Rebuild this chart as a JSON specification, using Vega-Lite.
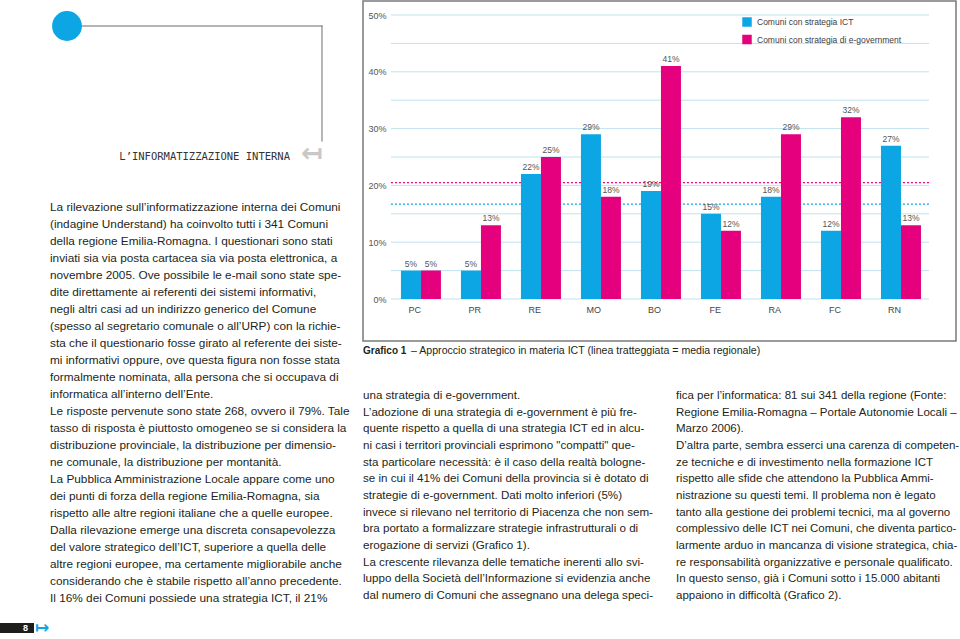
{
  "$schema": "https://vega.github.io/schema/vega-lite/v6.json",
  "padding": 0,
  "background": "white",
  "bounds": "full",
  "spacing": 4,
  "config": {"view": {"stroke": null}, "font": "Liberation Sans"},
  "datasets": {
    "bars": [
      {"prov": "PC", "serie": "Comuni con strategia ICT", "val": 0.05},
      {"prov": "PC", "serie": "Comuni con strategia di e-government", "val": 0.05},
      {"prov": "PR", "serie": "Comuni con strategia ICT", "val": 0.05},
      {"prov": "PR", "serie": "Comuni con strategia di e-government", "val": 0.13},
      {"prov": "RE", "serie": "Comuni con strategia ICT", "val": 0.22},
      {"prov": "RE", "serie": "Comuni con strategia di e-government", "val": 0.25},
      {"prov": "MO", "serie": "Comuni con strategia ICT", "val": 0.29},
      {"prov": "MO", "serie": "Comuni con strategia di e-government", "val": 0.18},
      {"prov": "BO", "serie": "Comuni con strategia ICT", "val": 0.19},
      {"prov": "BO", "serie": "Comuni con strategia di e-government", "val": 0.41},
      {"prov": "FE", "serie": "Comuni con strategia ICT", "val": 0.15},
      {"prov": "FE", "serie": "Comuni con strategia di e-government", "val": 0.12},
      {"prov": "RA", "serie": "Comuni con strategia ICT", "val": 0.18},
      {"prov": "RA", "serie": "Comuni con strategia di e-government", "val": 0.29},
      {"prov": "FC", "serie": "Comuni con strategia ICT", "val": 0.12},
      {"prov": "FC", "serie": "Comuni con strategia di e-government", "val": 0.32},
      {"prov": "RN", "serie": "Comuni con strategia ICT", "val": 0.27},
      {"prov": "RN", "serie": "Comuni con strategia di e-government", "val": 0.13}
    ],
    "grid": [
      {"g": 0}, {"g": 0.05}, {"g": 0.1}, {"g": 0.15}, {"g": 0.2}, {"g": 0.25},
      {"g": 0.3}, {"g": 0.35}, {"g": 0.4}, {"g": 0.45}, {"g": 0.5}
    ],
    "media": [
      {"serie": "Comuni con strategia ICT", "m": 0.167},
      {"serie": "Comuni con strategia di e-government", "m": 0.205}
    ],
    "header": [{"title": "L’INFORMATIZZAZIONE INTERNA"}],
    "page": [{"page": "8"}],
    "caption1": [{"t": "Grafico 1"}],
    "caption2": [{"t": "– Approccio strategico in materia ICT (linea tratteggiata = media regionale)"}],
    "leftText": [
      {"line": 1, "text": "La rilevazione sull’informatizzazione interna dei Comuni"},
      {"line": 2, "text": "(indagine Understand) ha coinvolto tutti i 341 Comuni"},
      {"line": 3, "text": "della regione Emilia-Romagna. I questionari sono stati"},
      {"line": 4, "text": "inviati sia via posta cartacea sia via posta elettronica, a"},
      {"line": 5, "text": "novembre 2005. Ove possibile le e-mail sono state spe-"},
      {"line": 6, "text": "dite direttamente ai referenti dei sistemi informativi,"},
      {"line": 7, "text": "negli altri casi ad un indirizzo generico del Comune"},
      {"line": 8, "text": "(spesso al segretario comunale o all’URP) con la richie-"},
      {"line": 9, "text": "sta che il questionario fosse girato al referente dei siste-"},
      {"line": 10, "text": "mi informativi oppure, ove questa figura non fosse stata"},
      {"line": 11, "text": "formalmente nominata, alla persona che si occupava di"},
      {"line": 12, "text": "informatica all’interno dell’Ente."},
      {"line": 13, "text": "Le risposte pervenute sono state 268, ovvero il 79%. Tale"},
      {"line": 14, "text": "tasso di risposta è piuttosto omogeneo se si considera la"},
      {"line": 15, "text": "distribuzione provinciale, la distribuzione per dimensio-"},
      {"line": 16, "text": "ne comunale, la distribuzione per montanità."},
      {"line": 17, "text": "La Pubblica Amministrazione Locale appare come uno"},
      {"line": 18, "text": "dei punti di forza della regione Emilia-Romagna, sia"},
      {"line": 19, "text": "rispetto alle altre regioni italiane che a quelle europee."},
      {"line": 20, "text": "Dalla rilevazione emerge una discreta consapevolezza"},
      {"line": 21, "text": "del valore strategico dell’ICT, superiore a quella delle"},
      {"line": 22, "text": "altre regioni europee, ma certamente migliorabile anche"},
      {"line": 23, "text": "considerando che è stabile rispetto all’anno precedente."},
      {"line": 24, "text": "Il 16% dei Comuni possiede una strategia ICT, il 21%"}
    ],
    "midText": [
      {"line": 1, "text": "una strategia di e-government."},
      {"line": 2, "text": "L’adozione di una strategia di e-government è più fre-"},
      {"line": 3, "text": "quente rispetto a quella di una strategia ICT ed in alcu-"},
      {"line": 4, "text": "ni casi i territori provinciali esprimono \"compatti\" que-"},
      {"line": 5, "text": "sta particolare necessità: è il caso della realtà bologne-"},
      {"line": 6, "text": "se in cui il 41% dei Comuni della provincia si è dotato di"},
      {"line": 7, "text": "strategie di e-government. Dati molto inferiori (5%)"},
      {"line": 8, "text": "invece si rilevano nel territorio di Piacenza che non sem-"},
      {"line": 9, "text": "bra portato a formalizzare strategie infrastrutturali o di"},
      {"line": 10, "text": "erogazione di servizi (Grafico 1)."},
      {"line": 11, "text": "La crescente rilevanza delle tematiche inerenti allo svi-"},
      {"line": 12, "text": "luppo della Società dell’Informazione si evidenzia anche"},
      {"line": 13, "text": "dal numero di Comuni che assegnano una delega speci-"}
    ],
    "rightText": [
      {"line": 1, "text": "fica per l’informatica: 81 sui 341 della regione (Fonte:"},
      {"line": 2, "text": "Regione Emilia-Romagna – Portale Autonomie Locali –"},
      {"line": 3, "text": "Marzo 2006)."},
      {"line": 4, "text": "D’altra parte, sembra esserci una carenza di competen-"},
      {"line": 5, "text": "ze tecniche e di investimento nella formazione ICT"},
      {"line": 6, "text": "rispetto alle sfide che attendono la Pubblica Ammi-"},
      {"line": 7, "text": "nistrazione su questi temi. Il problema non è legato"},
      {"line": 8, "text": "tanto alla gestione dei problemi tecnici, ma al governo"},
      {"line": 9, "text": "complessivo delle ICT nei Comuni, che diventa partico-"},
      {"line": 10, "text": "larmente arduo in mancanza di visione strategica, chia-"},
      {"line": 11, "text": "re responsabilità organizzative e personale qualificato."},
      {"line": 12, "text": "In questo senso, già i Comuni sotto i 15.000 abitanti"},
      {"line": 13, "text": "appaiono in difficoltà (Grafico 2)."}
    ]
  },
  "hconcat": [
    {
      "vconcat": [
        {
          "width": 358,
          "height": 181,
          "data": {"name": "header"},
          "layer": [
            {
              "mark": {"type": "rule", "color": "#6d6d6d", "strokeWidth": 1, "strokeCap": "square"},
              "encoding": {
                "x": {"datum": 0, "type": "quantitative", "scale": {"domain": [-0.2627, 1.1412], "nice": false, "zero": false}, "axis": null},
                "x2": {"datum": 1},
                "y": {"datum": 1, "type": "quantitative", "scale": {"domain": [-0.3565, 1.2174], "nice": false, "zero": false}, "axis": null}
              }
            },
            {
              "mark": {"type": "rule", "color": "#6d6d6d", "strokeWidth": 1, "strokeCap": "square"},
              "encoding": {
                "x": {"datum": 1, "type": "quantitative"},
                "y": {"datum": 0, "type": "quantitative"},
                "y2": {"datum": 1}
              }
            },
            {
              "mark": {"type": "circle", "size": 890, "color": "#0BA6E3", "opacity": 1},
              "encoding": {
                "x": {"datum": 0, "type": "quantitative"},
                "y": {"datum": 1, "type": "quantitative"}
              }
            },
            {
              "mark": {"type": "text", "font": "DejaVu Sans Mono", "fontSize": 10.5, "align": "right", "baseline": "middle", "dx": -32, "dy": 15.5, "color": "#333333"},
              "encoding": {
                "x": {"datum": 1, "type": "quantitative"},
                "y": {"datum": 0, "type": "quantitative"},
                "text": {"field": "title"}
              }
            },
            {
              "mark": {"type": "text", "text": "↤", "font": "DejaVu Sans", "fontWeight": "bold", "fontSize": 26, "align": "right", "baseline": "middle", "dx": 1, "dy": 13, "color": "#c8c8c8"},
              "encoding": {
                "x": {"datum": 1, "type": "quantitative"},
                "y": {"datum": 0, "type": "quantitative"}
              }
            }
          ]
        },
        {
          "width": 358,
          "height": 391,
          "data": {"name": "leftText"},
          "mark": {"type": "text", "align": "left", "baseline": "middle", "fontSize": 11.8, "font": "Liberation Sans", "color": "#231f20"},
          "encoding": {
            "x": {"datum": 0, "type": "quantitative", "scale": {"domain": [-0.17361, 1.06944], "nice": false, "zero": false}, "axis": null},
            "y": {"field": "line", "type": "quantitative", "scale": {"domain": [1, 24], "reverse": true, "nice": false, "zero": false}, "axis": null},
            "text": {"field": "text"}
          }
        },
        {
          "width": 34,
          "height": 10,
          "view": {"fill": "#1d1d1b", "stroke": null},
          "data": {"name": "page"},
          "layer": [
            {
              "mark": {"type": "text", "color": "white", "fontSize": 9, "fontWeight": "bold", "align": "right", "baseline": "middle", "dx": -6},
              "encoding": {
                "x": {"datum": 1, "type": "quantitative", "scale": {"domain": [0, 1], "nice": false}, "axis": null},
                "y": {"datum": 0.5, "type": "quantitative", "scale": {"domain": [0, 1], "nice": false}, "axis": null},
                "text": {"field": "page"}
              }
            },
            {
              "mark": {"type": "text", "text": "↦", "color": "#0BA6E3", "font": "DejaVu Sans", "fontWeight": "bold", "fontSize": 17, "align": "left", "baseline": "middle", "dx": 1},
              "encoding": {
                "x": {"datum": 1, "type": "quantitative"},
                "y": {"datum": 0.5, "type": "quantitative"}
              }
            }
          ]
        }
      ],
      "spacing": 25,
      "bounds": "flush"
    },
    {
      "vconcat": [
        {
          "width": 593,
          "height": 340,
          "view": {"stroke": "#7a7a7a", "strokeWidth": 1.5},
          "layer": [
            {
              "data": {"name": "grid"},
              "mark": {"type": "rule", "color": "#BFE3EF", "strokeWidth": 1},
              "encoding": {
                "x": {"datum": "PC", "bandPosition": -0.25},
                "x2": {"datum": "RN", "bandPosition": 1.2},
                "y": {"field": "g", "type": "quantitative", "title": null}
              }
            },
            {
              "data": {"name": "media"},
              "transform": [{"filter": {"field": "serie", "equal": "Comuni con strategia ICT"}}],
              "mark": {"type": "rule", "color": "#0BA6E3", "strokeWidth": 1.2, "strokeDash": [2, 2]},
              "encoding": {
                "x": {"datum": "PC", "bandPosition": -0.25},
                "x2": {"datum": "RN", "bandPosition": 1.2},
                "y": {"field": "m", "type": "quantitative", "title": null}
              }
            },
            {
              "data": {"name": "media"},
              "transform": [{"filter": {"field": "serie", "equal": "Comuni con strategia di e-government"}}],
              "mark": {"type": "rule", "color": "#E5007E", "strokeWidth": 1.2, "strokeDash": [2, 2]},
              "encoding": {
                "x": {"datum": "PC", "bandPosition": -0.25},
                "x2": {"datum": "RN", "bandPosition": 1.2},
                "y": {"field": "m", "type": "quantitative", "title": null}
              }
            },
            {
              "data": {"name": "bars"},
              "mark": {"type": "bar"},
              "encoding": {
                "x": {
                  "field": "prov", "type": "nominal", "title": null,
                  "scale": {"type": "band", "domain": ["PC", "PR", "RE", "MO", "BO", "FE", "RA", "FC", "RN"], "paddingInner": 0.33333, "paddingOuter": 0.608, "align": 0.52},
                  "axis": {"orient": "bottom", "offset": -42, "domain": false, "ticks": false, "labelPadding": 10, "labelAngle": 0, "labelFontSize": 9, "labelColor": "#444444", "title": null}
                },
                "xOffset": {
                  "field": "serie", "type": "nominal",
                  "scale": {"domain": ["Comuni con strategia ICT", "Comuni con strategia di e-government"], "paddingInner": 0, "paddingOuter": 0}
                },
                "y": {
                  "field": "val", "type": "quantitative", "title": null,
                  "scale": {"domain": [-0.073943, 0.524648], "nice": false, "zero": false},
                  "axis": {"orient": "left", "offset": -28, "domain": false, "ticks": false, "grid": false, "values": [0, 0.05, 0.1, 0.15, 0.2, 0.25, 0.3, 0.35, 0.4, 0.45, 0.5], "format": ".0%", "labelPadding": 5, "labelFontSize": 9, "labelColor": "#555555", "title": null}
                },
                "y2": {"datum": 0},
                "color": {
                  "field": "serie", "type": "nominal",
                  "scale": {"domain": ["Comuni con strategia ICT", "Comuni con strategia di e-government"], "range": ["#0BA6E3", "#E5007E"]},
                  "legend": {"orient": "none", "legendX": 742, "legendY": 16, "title": null, "symbolType": "square", "symbolSize": 90, "symbolStrokeWidth": 0, "symbolOpacity": 1, "labelFontSize": 8.5, "labelColor": "#3c3c3c", "rowPadding": 7.5, "labelOffset": 5, "padding": 0}
                }
              }
            },
            {
              "data": {"name": "bars"},
              "mark": {"type": "text", "baseline": "bottom", "dy": -2, "fontSize": 8.5, "color": "#555555"},
              "encoding": {
                "x": {"field": "prov", "type": "nominal", "title": null},
                "xOffset": {"field": "serie", "type": "nominal"},
                "y": {"field": "val", "type": "quantitative", "title": null},
                "text": {"field": "val", "format": ".0%"}
              }
            }
          ]
        },
        {
          "width": 593,
          "height": 45,
          "layer": [
            {
              "data": {"name": "caption1"},
              "mark": {"type": "text", "align": "left", "baseline": "top", "fontSize": 10, "fontWeight": "bold", "color": "#231f20"},
              "encoding": {
                "x": {"datum": 0, "type": "quantitative", "scale": {"domain": [0, 1], "nice": false}, "axis": null},
                "y": {"datum": 1, "type": "quantitative", "scale": {"domain": [0, 1], "nice": false}, "axis": null},
                "text": {"field": "t"}
              }
            },
            {
              "data": {"name": "caption2"},
              "mark": {"type": "text", "align": "left", "baseline": "top", "fontSize": 10.6, "dx": 48, "color": "#231f20"},
              "encoding": {
                "x": {"datum": 0, "type": "quantitative"},
                "y": {"datum": 1, "type": "quantitative"},
                "text": {"field": "t"}
              }
            }
          ]
        },
        {
          "hconcat": [
            {
              "width": 289,
              "height": 200,
              "data": {"name": "midText"},
              "mark": {"type": "text", "align": "left", "baseline": "middle", "fontSize": 11.6, "font": "Liberation Sans", "color": "#231f20"},
              "encoding": {
                "x": {"datum": 0, "type": "quantitative", "scale": {"domain": [0, 1], "nice": false}, "axis": null},
                "y": {"field": "line", "type": "quantitative", "scale": {"domain": [1, 13], "reverse": true, "nice": false, "zero": false}, "axis": null},
                "text": {"field": "text"}
              }
            },
            {
              "width": 284,
              "height": 200,
              "data": {"name": "rightText"},
              "mark": {"type": "text", "align": "left", "baseline": "middle", "fontSize": 11.5, "font": "Liberation Sans", "color": "#231f20"},
              "encoding": {
                "x": {"datum": 0, "type": "quantitative", "scale": {"domain": [0, 1], "nice": false}, "axis": null},
                "y": {"field": "line", "type": "quantitative", "scale": {"domain": [1, 13], "reverse": true, "nice": false, "zero": false}, "axis": null},
                "text": {"field": "text"}
              }
            }
          ],
          "spacing": 24,
          "bounds": "flush"
        }
      ],
      "spacing": 5,
      "bounds": "flush"
    }
  ]
}
